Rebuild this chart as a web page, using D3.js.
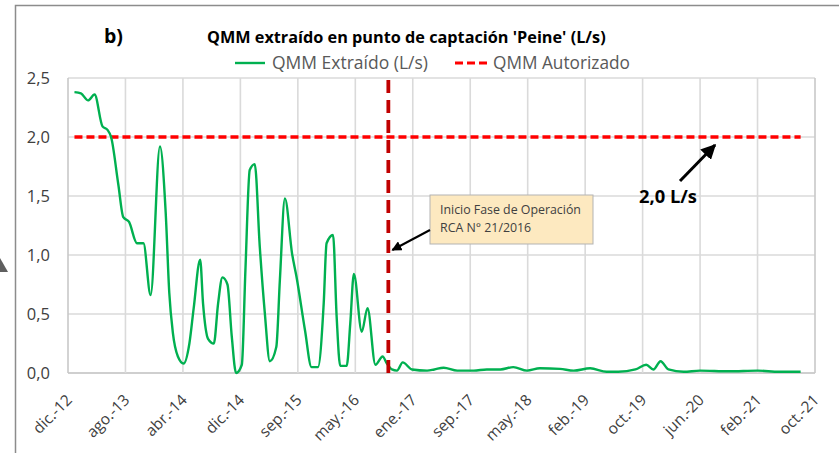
<!DOCTYPE html>
<html><head><meta charset="utf-8">
<script src="https://cdn.jsdelivr.net/npm/d3@7"></script>
<style>
html,body{margin:0;padding:0;background:#fff;}
svg{display:block;font-family:"Open Sans",Lato,sans-serif;}
</style></head>
<body><svg id="c" width="839" height="453"></svg>
<script>
// ---- data (months counted from dic.-12) ----
const tickLabels = ["dic.-12","ago.-13","abr.-14","dic.-14","sep.-15","may.-16","ene.-17","sep.-17","may.-18","feb.-19","oct.-19","jun.-20","feb.-21","oct.-21"];
const tickMonths = [0,8,16,24,32,40,48,56,64,72,80,88,96,104];
const yTicks = [0,0.5,1,1.5,2,2.5];
const months = [0.9,1.8,2.8,3.7,4.8,5.5,6.0,7.0,7.7,8.5,9.6,10.5,11.5,12.8,13.6,14.1,14.6,15.3,16.1,16.9,17.5,18.4,18.8,19.5,20.3,20.9,21.5,22.2,22.8,23.4,24.2,24.7,25.3,26.0,26.7,27.4,28.1,29.0,29.5,30.2,31.2,31.8,33.0,33.9,34.8,35.6,36.0,36.9,37.4,37.9,38.8,39.3,39.8,40.9,41.7,42.8,43.8,44.4,45.1,45.8,46.6,47.9,50,51,52.3,54.2,56.5,58.3,60.2,62,63.9,65.7,68.5,70.4,72.7,75,76.6,79,80.5,81.5,82.5,83.6,85.7,88,92,96,99,102];
const qmmExtraido = [2.38,2.37,2.31,2.36,2.09,2.06,2.00,1.60,1.32,1.28,1.10,1.10,0.66,1.92,1.36,0.68,0.34,0.14,0.08,0.25,0.55,0.96,0.59,0.29,0.25,0.59,0.81,0.75,0.31,0.0,0.07,0.87,1.72,1.77,1.07,0.51,0.10,0.22,0.79,1.48,1.01,0.82,0.36,0.05,0.05,0.59,1.10,1.17,0.48,0.06,0.06,0.42,0.84,0.35,0.55,0.07,0.14,0.08,0.03,0.02,0.09,0.03,0.02,0.03,0.045,0.02,0.02,0.03,0.03,0.05,0.02,0.04,0.035,0.02,0.04,0.01,0.01,0.03,0.07,0.03,0.10,0.03,0.01,0.02,0.015,0.02,0.01,0.01];
const qmmAutorizado = 2.0;
const opStartMonth = 44.6;
const limitLabel = "2,0 L/s";
const noteLines = ["Inicio Fase de Operación","RCA N° 21/2016"];

const svg = d3.select("#c");
const L=68, R=815, T=78, B=373;
const x = d3.scaleLinear().domain([0,104]).range([L,R]);
const y = d3.scaleLinear().domain([0,2.5]).range([B,T]);
const fmt = v => d3.format(".1f")(v).replace(".",",");
function fit(sel, w){ sel.each(function(){ const s=+this.getAttribute("font-size"); const m=this.getComputedTextLength(); if(m>0) this.setAttribute("font-size",(s*w/m).toFixed(2)); }); return sel; }

// outer frame & left marker
svg.append("path").attr("d","M15.5,453 V5.5 H839").attr("fill","none").attr("stroke","#8c8c8c").attr("stroke-width",1.5);
svg.append("path").attr("d","M0,258 L8,272 L0,272 Z").attr("fill","#5f5f5f");

// gridlines
const g = svg.append("g");
g.selectAll(".hg").data(yTicks).join("line")
  .attr("x1",L).attr("x2",R).attr("y1",d=>y(d)).attr("y2",d=>y(d))
  .attr("stroke",d=>d===0?"#bfbfbf":"#dadada").attr("stroke-width",1.6);
g.selectAll(".vg").data(tickMonths).join("line")
  .attr("x1",d=>x(d)).attr("x2",d=>x(d)).attr("y1",T).attr("y2",B)
  .attr("stroke",(d,i)=>(i===0||i===tickMonths.length-1)?"#c8c8c8":"#dadada").attr("stroke-width",1.6);

// y labels
svg.append("g").selectAll("text").data(yTicks).join("text")
  .attr("x",50).attr("y",d=>y(d)).attr("dy","0.36em").attr("text-anchor","end")
  .attr("font-size",16.5).attr("fill","#404040").text(fmt);

// x labels
svg.append("g").selectAll("text").data(tickMonths).join("text")
  .attr("transform",d=>`translate(${x(d)+5},${401}) rotate(-45)`)
  .attr("text-anchor","end").attr("font-size",15.5).attr("fill","#404040")
  .text((d,i)=>tickLabels[i]);

// authorized line
svg.append("line").attr("x1",x(months[0])).attr("x2",x(months[months.length-1]))
  .attr("y1",y(qmmAutorizado)).attr("y2",y(qmmAutorizado))
  .attr("stroke","#ff0000").attr("stroke-width",3.5).attr("stroke-dasharray","8,4");

// extracted line
const pts = months.map((m,i)=>[m,qmmExtraido[i]]);
svg.append("path").datum(pts)
  .attr("d",d3.line().x(d=>x(d[0])).y(d=>y(d[1])).curve(d3.curveMonotoneX))
  .attr("fill","none").attr("stroke","#00b050").attr("stroke-width",2.4).attr("stroke-linejoin","round");

// operation start line
svg.append("line").attr("x1",x(opStartMonth)).attr("x2",x(opStartMonth))
  .attr("y1",T+2).attr("y2",B).attr("stroke","#c00000").attr("stroke-width",3.8).attr("stroke-dasharray","13,7");

// arrowheads
const defs = svg.append("defs");
defs.append("marker").attr("id","ah").attr("viewBox","0 0 10 10").attr("refX",9).attr("refY",5)
  .attr("markerWidth",5).attr("markerHeight",5).attr("orient","auto")
  .append("path").attr("d","M0,0 L10,5 L0,10 Z").attr("fill","#000");

// annotation box
const bx=430, by=195, bw=163, bh=49;
svg.append("rect").attr("x",bx).attr("y",by).attr("width",bw).attr("height",bh)
  .attr("fill","#fde9c0").attr("stroke","#b3b3b3").attr("stroke-width",1);
const nt = svg.append("g").selectAll("text").data(noteLines).join("text")
  .attr("x",bx+10).attr("y",(d,i)=>by+19+i*18).attr("font-size",12).attr("fill","#404040").text(d=>d);
const base = nt.node().getComputedTextLength(); const ns = 12*141/base; nt.attr("font-size",ns.toFixed(2));
svg.append("line").attr("x1",bx).attr("y1",230).attr("x2",x(opStartMonth)+4).attr("y2",250)
  .attr("stroke","#000").attr("stroke-width",2).attr("marker-end","url(#ah)");

// limit arrow & label
svg.append("line").attr("x1",680).attr("y1",181).attr("x2",715).attr("y2",y(qmmAutorizado)+8)
  .attr("stroke","#000").attr("stroke-width",3).attr("marker-end","url(#ah)");
fit(svg.append("text").attr("x",639).attr("y",203)
  .attr("font-size",16).attr("font-weight","bold").attr("fill","#000").text(limitLabel), 58);

// title
svg.append("text").attr("x",104).attr("y",43).attr("font-size",19.5)
  .attr("font-weight","bold").attr("fill","#000").text("b)");
fit(svg.append("text").attr("x",207).attr("y",43).attr("font-size",14)
  .attr("font-weight","bold").attr("fill","#000").text("QMM extraído en punto de captación 'Peine' (L/s)"), 399);

// legend
const lg = svg.append("g");
lg.append("line").attr("x1",235).attr("x2",265).attr("y1",63).attr("y2",63).attr("stroke","#00b050").attr("stroke-width",2.4);
fit(lg.append("text").attr("x",272).attr("y",68.5).attr("font-size",15).attr("fill","#595959").text("QMM Extraído (L/s)"),156);
lg.append("line").attr("x1",455).attr("x2",489).attr("y1",63).attr("y2",63).attr("stroke","#ff0000").attr("stroke-width",3.2).attr("stroke-dasharray","8,4");
fit(lg.append("text").attr("x",493).attr("y",68.5).attr("font-size",15).attr("fill","#595959").text("QMM Autorizado"),137);
</script></body></html>
